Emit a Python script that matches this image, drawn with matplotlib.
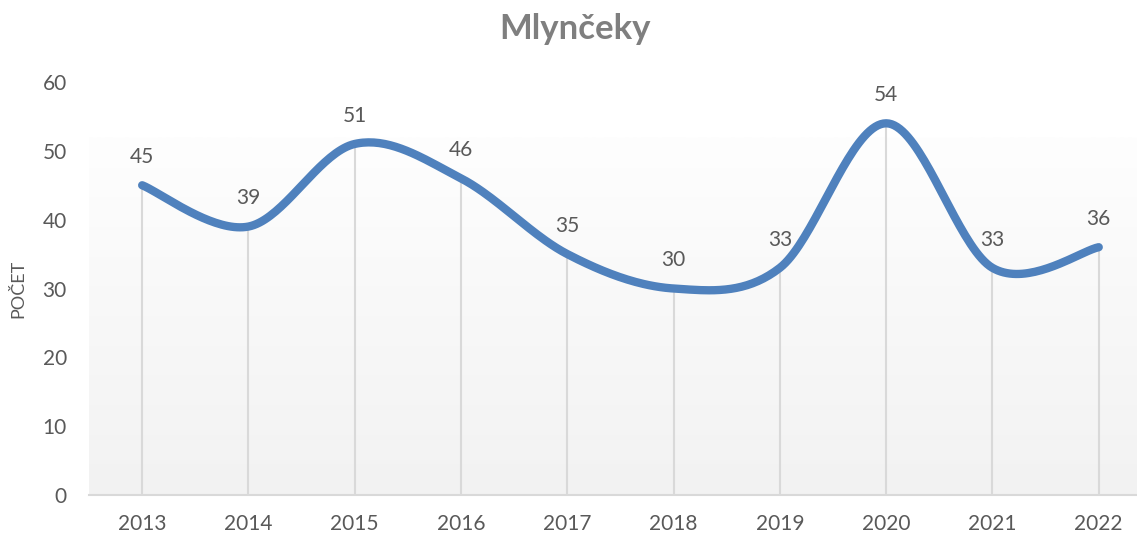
"""
Mlynčeky - počet podľa rokov (vyhladená čiara)
"""

import numpy as np
import matplotlib as mpl
mpl.use("Agg")
import matplotlib.pyplot as plt
from matplotlib.colors import LinearSegmentedColormap

years = ["2013", "2014", "2015", "2016", "2017", "2018", "2019", "2020", "2021", "2022"]
counts = [45, 39, 51, 46, 35, 30, 33, 54, 33, 36]

plt.rcParams["font.family"] = ["Lato", "DejaVu Sans"]

line_color = "#4f81bd"
text_color = "#595959"
grid_color = "#d9d9d9"


def smooth_curve(x, y, n=40):
    # bezier with catmull-rom tangents, close to the excel smoothing
    x, y = np.asarray(x, float), np.asarray(y, float)
    px = np.concatenate([[x[0]], x, [x[-1]]])
    py = np.concatenate([[y[0]], y, [y[-1]]])
    xs, ys = [], []
    t = np.linspace(0, 1, n)
    for i in range(len(x) - 1):
        p0 = np.array([px[i + 1], py[i + 1]])
        p3 = np.array([px[i + 2], py[i + 2]])
        p1 = p0 + (np.array([px[i + 2], py[i + 2]]) - np.array([px[i], py[i]])) / 6
        p2 = p3 - (np.array([px[i + 3], py[i + 3]]) - np.array([px[i + 1], py[i + 1]])) / 6
        b = ((1 - t) ** 3)[:, None] * p0 + (3 * (1 - t) ** 2 * t)[:, None] * p1 \
            + (3 * (1 - t) * t ** 2)[:, None] * p2 + (t ** 3)[:, None] * p3
        xs.append(b[:, 0])
        ys.append(b[:, 1])
    return np.concatenate(xs), np.concatenate(ys)


fig = plt.figure(figsize=(11.37, 5.36), dpi=100)
ax = fig.add_axes([0.0783, 0.0765, 0.9217, 0.7705])

xpos = np.arange(len(years))
ax.set_xlim(-0.5, 9.36)
ax.set_ylim(0, 60)

# plot area gradient
cmap = LinearSegmentedColormap.from_list("bg", ["#f2f2f2", "#fefefe"])
grad = np.linspace(0, 1, 256)[:, None]
ax.imshow(grad, cmap=cmap, origin="lower", aspect="auto",
          extent=(-0.5, 9.36, 0, 52), zorder=0)

# drop lines
ax.vlines(xpos, 0, counts, color=grid_color, lw=1.5, zorder=1)

sx, sy = smooth_curve(xpos, counts)
ax.plot(sx, sy, color=line_color, lw=6, solid_capstyle="round",
        solid_joinstyle="round", zorder=3)

for x, v in zip(xpos, counts):
    ax.annotate(str(v), (x, v), xytext=(0, 16), textcoords="offset points",
                ha="center", va="baseline", fontsize=15, color=text_color)

ax.set_xticks(xpos)
ax.set_xticklabels(years)
ax.set_yticks(np.arange(0, 61, 10))
ax.tick_params(axis="both", length=0, labelsize=15, colors=text_color)
ax.tick_params(axis="x", pad=14)
ax.tick_params(axis="y", pad=16)

for side in ["top", "right", "left"]:
    ax.spines[side].set_visible(False)
ax.spines["bottom"].set_color(grid_color)
ax.spines["bottom"].set_linewidth(1.5)
ax.spines["bottom"].set_zorder(2)

fig.text(0.0165, 0.0765 + 0.7705 / 2, "POČET", rotation=90, ha="center",
         va="center", fontsize=13, color=text_color)
fig.text(0.506, 0.945, "Mlynčeky", ha="center", va="center",
         fontsize=25, fontweight="bold", color="#7f7f7f")

fig.savefig("out.png", dpi=100)
